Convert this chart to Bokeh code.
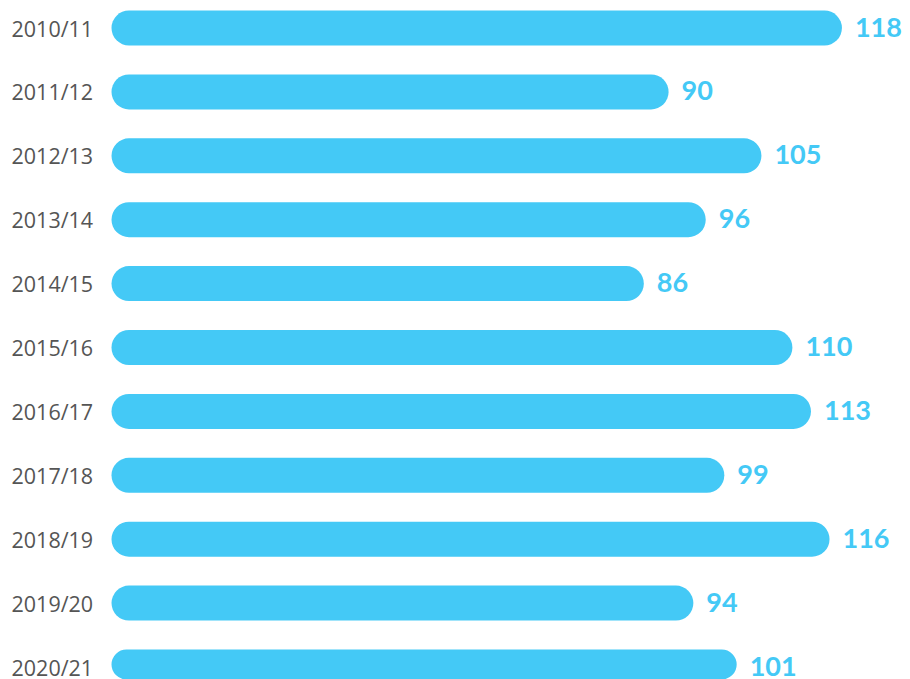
from bokeh.plotting import figure
from bokeh.models import ColumnDataSource, Range1d
from bokeh.core.properties import value
from bokeh.embed import file_html
from bokeh.resources import INLINE

seasons = ["2010/11", "2011/12", "2012/13", "2013/14", "2014/15", "2015/16",
           "2016/17", "2017/18", "2018/19", "2019/20", "2020/21"]
counts = [118, 90, 105, 96, 86, 110, 113, 99, 116, 94, 101]

pos = list(range(len(seasons)))
src = ColumnDataSource(dict(y=pos, v=counts, season=seasons,
                            lbl=[str(c) for c in counts], zero=[0] * len(counts)))

W, H = 910, 679
px_per_unit = 6.19
left_px = 111
row = 63.9
top_px = 27.5

p = figure(width=W, height=H, output_backend="svg", toolbar_location=None,
           x_range=Range1d(-left_px / px_per_unit, (W - left_px) / px_per_unit),
           y_range=Range1d((H - top_px) / row, -top_px / row),
           x_axis_location=None, y_axis_location=None,
           min_border=0, min_border_left=0, min_border_right=0,
           min_border_top=0, min_border_bottom=0)
p.outline_line_color = None
p.grid.visible = False
p.background_fill_color = "white"
p.border_fill_color = "white"

p.hbar(y="y", left=0, right="v", height=35 / row, source=src,
       fill_color="#44C9F6", line_color=None, border_radius=18)

p.text(x="zero", y="y", text="season", source=src, x_offset=-100,
       text_align="left", text_baseline="middle",
       text_font=value("Open Sans"), text_font_size="21.5px", text_color="#555555")

p.text(x="v", y="y", text="lbl", source=src, x_offset=13, y_offset=-1,
       text_align="left", text_baseline="middle",
       text_font=value("Lato"), text_font_style="bold",
       text_font_size="27px", text_color="#44C9F6")

open("out.html", "w").write(file_html(p, INLINE))
